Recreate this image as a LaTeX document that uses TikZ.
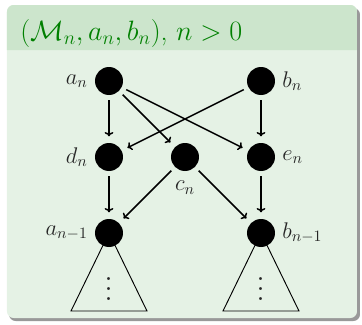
\RequirePackage{fix-cm}
\documentclass[tikz,border=0pt]{standalone}
\usepackage{xcolor}
\usepackage{tikz}
\usetikzlibrary{arrows.meta,positioning}
\definecolor{blocktitlebg}{RGB}{204,229,204}
\definecolor{blockbodybg}{RGB}{229,242,229}
\definecolor{blocktitlefg}{RGB}{0,128,0}
\newcommand{\lblfont}{\fontsize{17}{20}\selectfont}
\newcommand{\treedots}{\vbox{\baselineskip=7.5pt\lineskiplimit=-5pt\hbox{.}\hbox{.}\hbox{.}}}

\begin{document}
\begin{tikzpicture}[
  x=0.75pt, y=-0.75pt,
  node distance=36pt,
  vtx/.style={circle, fill=black, minimum size=21pt, inner sep=0pt, outer sep=0pt},
  lbl/.style={font=\lblfont, text=black!85},
  edge/.style={-{To[length=3.2pt,width=6.5pt]}, line width=1.1pt, shorten <=4pt, shorten >=5pt},
  subtree/.style={line width=0.7pt}
]
\useasboundingbox (0,0) rectangle (362,325);

% block frame
\fill[black!40, rounded corners=5pt] (9,8) rectangle (360,321);
\fill[blockbodybg, rounded corners=5pt] (7,5) rectangle (357,318);
\fill[blocktitlebg] (7,50) [rounded corners=5pt] -- (7,5) -- (357,5) [sharp corners] -- (357,50) -- cycle;
\node[anchor=base west, inner sep=0pt, text=blocktitlefg, font=\fontsize{21}{25}\selectfont]
  (title) at (20,40) {$(\mathcal{M}_n, a_n, b_n)$, $n > 0$};

% vertices
\node[vtx, label={[lbl, label distance=2pt]left:$a_n$}] (an) at (109,81) {};
\node[vtx, below=of an, label={[lbl, label distance=2pt]left:$d_n$}] (dn) {};
\node[vtx, right=of dn, label={[lbl, label distance=4pt]below:$c_n$}] (cn) {};
\node[vtx, right=of cn, label={[lbl, label distance=2pt]right:$e_n$}] (en) {};
\node[vtx, above=of en, label={[lbl, label distance=2pt]right:$b_n$}] (bn) {};
\node[vtx, below=of dn, label={[lbl, label distance=2pt]left:$a_{n-1}$}] (am) {};
\node[vtx, below=of en, label={[lbl, label distance=2pt]right:$b_{n-1}$}] (bm) {};

% subtrees
\draw[subtree] (am.center) -- ++(-38,78) -- ++(76,0) -- cycle;
\draw[subtree] (bm.center) -- ++(-38,78) -- ++(76,0) -- cycle;
\node[lbl, font=\fontsize{27}{30}\selectfont, inner sep=0pt] (amdots) at ([yshift=-42pt]am.center) {\treedots};
\node[lbl, font=\fontsize{27}{30}\selectfont, inner sep=0pt] (bmdots) at ([yshift=-42pt]bm.center) {\treedots};

% edges
\draw[edge] (an) -- (dn);
\draw[edge] (an) -- (cn);
\draw[edge] (an) -- (en);
\draw[edge] (bn) -- (dn);
\draw[edge] (bn) -- (en);
\draw[edge] (dn) -- (am);
\draw[edge] (cn) -- (am);
\draw[edge] (cn) -- (bm);
\draw[edge] (en) -- (bm);
\end{tikzpicture}
\end{document}
